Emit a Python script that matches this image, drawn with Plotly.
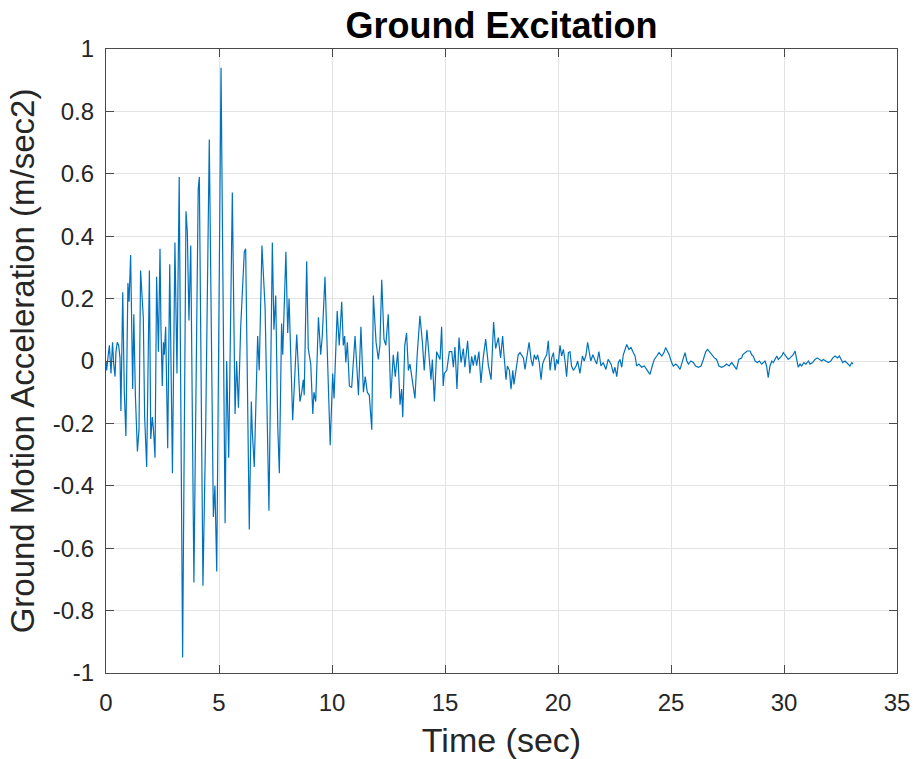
import plotly.graph_objects as go

# Ground acceleration record (time in seconds, acceleration in m/sec^2)
time_s = [
    0.00, 0.03, 0.10, 0.15, 0.22, 0.29, 0.34, 0.40, 0.44, 0.50, 0.56, 0.62, 0.66, 0.74, 0.81, 0.88,
    0.97, 1.02, 1.09, 1.14, 1.18, 1.23, 1.30, 1.39, 1.46, 1.53, 1.59, 1.65, 1.71, 1.80, 1.92, 1.98,
    2.05, 2.10, 2.17, 2.24, 2.32, 2.39, 2.43, 2.49, 2.54, 2.58, 2.64, 2.73, 2.82, 2.94, 3.05, 3.14,
    3.24, 3.39, 3.54, 3.60, 3.67, 3.75, 3.89, 4.08, 4.13, 4.29, 4.41, 4.57, 4.75, 4.82, 4.90, 5.09,
    5.27, 5.34, 5.43, 5.59, 5.71, 5.78, 5.86, 5.96, 6.12, 6.18, 6.34, 6.43, 6.47, 6.56, 6.71, 6.78,
    6.90, 7.04, 7.21, 7.36, 7.43, 7.51, 7.60, 7.67, 7.77, 7.82, 7.96, 8.04, 8.10, 8.26, 8.44, 8.51,
    8.58, 8.66, 8.73, 8.77, 8.88, 8.95, 9.06, 9.15, 9.20, 9.28, 9.40, 9.50, 9.57, 9.69, 9.79, 9.92,
    10.03, 10.09, 10.23, 10.32, 10.43, 10.50, 10.56, 10.61, 10.68, 10.77, 10.87, 11.02, 11.17, 11.28,
    11.39, 11.47, 11.56, 11.65, 11.76, 11.83, 11.95, 12.05, 12.12, 12.20, 12.30, 12.38, 12.49, 12.60,
    12.71, 12.80, 12.91, 13.01, 13.08, 13.13, 13.22, 13.30, 13.38, 13.45, 13.53, 13.60, 13.67, 13.77,
    13.89, 14.00, 14.08, 14.20, 14.31, 14.38, 14.44, 14.53, 14.63, 14.71, 14.78, 14.85, 14.92, 14.97,
    15.08, 15.19, 15.30, 15.37, 15.44, 15.53, 15.62, 15.71, 15.81, 15.88, 16.00, 16.10, 16.18, 16.25,
    16.33, 16.40, 16.50, 16.59, 16.69, 16.80, 16.92, 17.04, 17.15, 17.24, 17.36, 17.46, 17.55, 17.61,
    17.65, 17.70, 17.76, 17.85, 17.92, 18.00, 18.05, 18.14, 18.24, 18.32, 18.39, 18.47, 18.54, 18.62,
    18.72, 18.81, 18.88, 18.95, 19.03, 19.10, 19.17, 19.25, 19.32, 19.39, 19.50, 19.57, 19.65, 19.72,
    19.80, 19.87, 19.94, 20.01, 20.09, 20.16, 20.24, 20.31, 20.38, 20.46, 20.53, 20.60, 20.68, 20.80,
    20.87, 20.97, 21.08, 21.16, 21.24, 21.31, 21.39, 21.45, 21.54, 21.60, 21.71, 21.81, 21.90, 22.00,
    22.12, 22.22, 22.35, 22.45, 22.52, 22.60, 22.67, 22.74, 22.82, 22.89, 22.96, 23.04, 23.14, 23.23,
    23.33, 23.41, 23.48, 23.58, 23.70, 23.82, 23.92, 24.00, 24.07, 24.17, 24.26, 24.37, 24.47, 24.59,
    24.69, 24.76, 24.85, 24.92, 25.03, 25.10, 25.21, 25.30, 25.40, 25.47, 25.55, 25.62, 25.70, 25.77,
    25.88, 25.99, 26.09, 26.21, 26.33, 26.43, 26.54, 26.62, 26.73, 26.83, 26.92, 27.02, 27.12, 27.24,
    27.36, 27.46, 27.57, 27.69, 27.80, 27.90, 28.00, 28.13, 28.17, 28.27, 28.37, 28.50, 28.57, 28.64,
    28.72, 28.82, 28.91, 29.01, 29.08, 29.16, 29.23, 29.30, 29.38, 29.46, 29.53, 29.60, 29.68, 29.75,
    29.82, 29.90, 29.97, 30.04, 30.12, 30.19, 30.27, 30.34, 30.41, 30.49, 30.56, 30.63, 30.71, 30.78,
    30.88, 30.97, 31.08, 31.15, 31.27, 31.37, 31.47, 31.56, 31.67, 31.74, 31.86, 31.96, 32.07, 32.16,
    32.26, 32.36, 32.45, 32.51, 32.60, 32.70, 32.77, 32.85, 32.92, 33.00, 33.05,
]

accel = [
    0.00, -0.03, 0.02, 0.05, -0.04, 0.06, -0.01, -0.05, 0.03, 0.06, 0.05, 0.01, -0.16, 0.22, -0.10, -0.24,
    0.25, 0.19, 0.34, 0.14, -0.09, 0.15, -0.11, -0.29, -0.22, 0.29, 0.23, 0.14, -0.18, -0.34, 0.29, -0.25,
    -0.18, -0.22, -0.31, 0.27, 0.03, 0.36, 0.115, -0.08, 0.06, 0.02, 0.11, -0.28, 0.31, -0.36, 0.38, -0.04,
    0.59, -0.95, 0.48, 0.41, 0.13, 0.37, -0.71, 0.55, 0.59, -0.72, -0.22, 0.71, -0.50, -0.40, -0.675, 0.94,
    -0.52, 0.00, -0.31, 0.54, -0.17, 0.00, -0.15, 0.11, 0.35, 0.36, -0.54, -0.13, -0.22, -0.34, 0.08, -0.03,
    0.37, 0.17, -0.48, 0.38, 0.10, 0.21, -0.21, -0.36, 0.12, 0.02, 0.35, 0.09, 0.20, -0.19, 0.085, -0.03,
    -0.13, -0.10, -0.06, -0.11, 0.32, 0.04, -0.01, -0.17, -0.10, -0.13, 0.14, 0.02, 0.08, 0.27, 0.04, -0.27,
    -0.04, -0.12, 0.16, 0.05, 0.19, 0.05, 0.08, -0.005, 0.06, -0.08, -0.085, 0.08, -0.11, 0.11,
    -0.10, -0.05, -0.10, -0.11, -0.22, 0.21, 0.06, 0.005, 0.05, 0.26, 0.07, 0.05, 0.15, -0.12,
    0.02, -0.05, 0.03, -0.14, -0.09, -0.18, 0.05, 0.09, -0.03, -0.01, -0.05, -0.08, -0.12, 0.02,
    0.145, 0.06, -0.03, 0.10, -0.015, -0.06, 0.005, -0.13, 0.03, 0.015, 0.005, 0.11, -0.08, -0.04,
    -0.03, 0.03, 0.03, -0.02, 0.045, -0.09, 0.075, -0.005, 0.04, -0.02, 0.065, -0.04, 0.015, -0.015,
    0.02, -0.015, 0.03, -0.07, 0.01, 0.07, -0.015, -0.06, 0.125, 0.04, 0.075, 0.01, 0.08, 0.02,
    -0.027, -0.06, -0.016, -0.03, -0.09, -0.03, -0.075, -0.027, 0.02, 0.027, 0.02, 0.01, -0.027, 0.016,
    0.06, 0.005, -0.016, 0.02, 0.005, 0.02, -0.005, -0.06, -0.01, 0.005, 0.02, 0.065, -0.03, 0.01,
    0.027, -0.03, 0.005, -0.01, 0.05, 0.016, 0.037, 0.00, -0.05, 0.027, 0.03, -0.016, -0.03, -0.016,
    0.00, -0.04, 0.016, 0.00, 0.02, 0.06, 0.03, 0.00, 0.02, 0.01, -0.01, 0.03, -0.016, -0.005,
    -0.027, 0.005, -0.01, -0.04, -0.02, -0.05, -0.005, 0.005, -0.02, 0.02, 0.04, 0.053, 0.037, 0.043,
    0.027, 0.016, -0.016, -0.01, -0.02, -0.016, -0.027, -0.037, -0.043, -0.016, 0.005, 0.016, 0.027, 0.016,
    0.027, 0.043, 0.03, 0.02, -0.005, -0.016, -0.01, -0.016, -0.027, -0.005, 0.01, 0.027, 0.00, -0.01,
    0.00, -0.005, -0.016, -0.02, -0.016, 0.005, 0.03, 0.037, 0.027, 0.02, 0.01, 0.005, -0.016, -0.02,
    -0.016, -0.01, -0.016, -0.005, -0.016, -0.027, 0.005, 0.01, 0.02, 0.027, 0.032, 0.032, 0.02, 0.016,
    0.00, -0.005, 0.00, -0.01, -0.005, 0.00, -0.016, -0.053, -0.016, 0.00, -0.005, 0.005, 0.016, 0.005,
    0.01, 0.016, 0.027, 0.02, 0.01, 0.005, 0.01, 0.016, 0.02, 0.032, 0.00, -0.02, -0.01, -0.016,
    -0.005, -0.01, 0.00, -0.01, -0.005, 0.005, 0.01, 0.005, 0.00, 0.005, 0.00, -0.005, 0.00, 0.01,
    0.016, 0.01, 0.016, 0.005, -0.005, 0.00, -0.005, -0.01, -0.016, -0.005, -0.01,
]

x_ticks = [0, 5, 10, 15, 20, 25, 30, 35]
x_tick_labels = ["0", "5", "10", "15", "20", "25", "30", "35"]
y_ticks = [-1, -0.8, -0.6, -0.4, -0.2, 0, 0.2, 0.4, 0.6, 0.8, 1]
y_tick_labels = ["-1", "-0.8", "-0.6", "-0.4", "-0.2", "0", "0.2", "0.4", "0.6", "0.8", "1"]

FONT = "Liberation Sans, Arial, Helvetica, sans-serif"
AXIS_COLOR = "#4a4a4a"
TEXT_COLOR = "#262626"
GRID_COLOR = "#e3e3e3"

fig = go.Figure()
fig.add_trace(go.Scatter(
    x=time_s, y=accel, mode="lines",
    line=dict(color="#0072BD", width=1.2),
    showlegend=False, hoverinfo="x+y",
))

axis_common = dict(
    automargin=False,
    showline=True, linecolor=AXIS_COLOR, linewidth=1.3, mirror="ticks",
    ticks="inside", ticklen=8, tickwidth=1, tickcolor=AXIS_COLOR,
    showgrid=True, gridcolor=GRID_COLOR, gridwidth=1,
    zeroline=False,
    tickfont=dict(family=FONT, size=24, color=TEXT_COLOR),
)

fig.update_layout(
    width=915, height=759,
    margin=dict(l=106, r=18, t=49, b=86),
    paper_bgcolor="white", plot_bgcolor="white",
    title=dict(
        text="<b>Ground Excitation</b>",
        font=dict(family=FONT, size=36, color="black"),
        x=(106 + 897) / 2 / 915, xanchor="center",
        y=1 - 25 / 759, yanchor="middle", yref="container",
    ),
    xaxis=dict(
        range=[0, 35], tickmode="array", tickvals=x_ticks, ticktext=x_tick_labels,
        ticklabelstandoff=8,
        title=dict(text="Time (sec)", font=dict(family=FONT, size=34, color=TEXT_COLOR), standoff=14),
        **axis_common,
    ),
    yaxis=dict(
        range=[-1, 1], tickmode="array", tickvals=y_ticks, ticktext=y_tick_labels,
        ticklabelstandoff=6,
        title=dict(text="Ground Motion Acceleration (m/sec2)",
                   font=dict(family=FONT, size=33, color=TEXT_COLOR), standoff=8),
        **axis_common,
    ),
)

fig.write_html("out.html")
